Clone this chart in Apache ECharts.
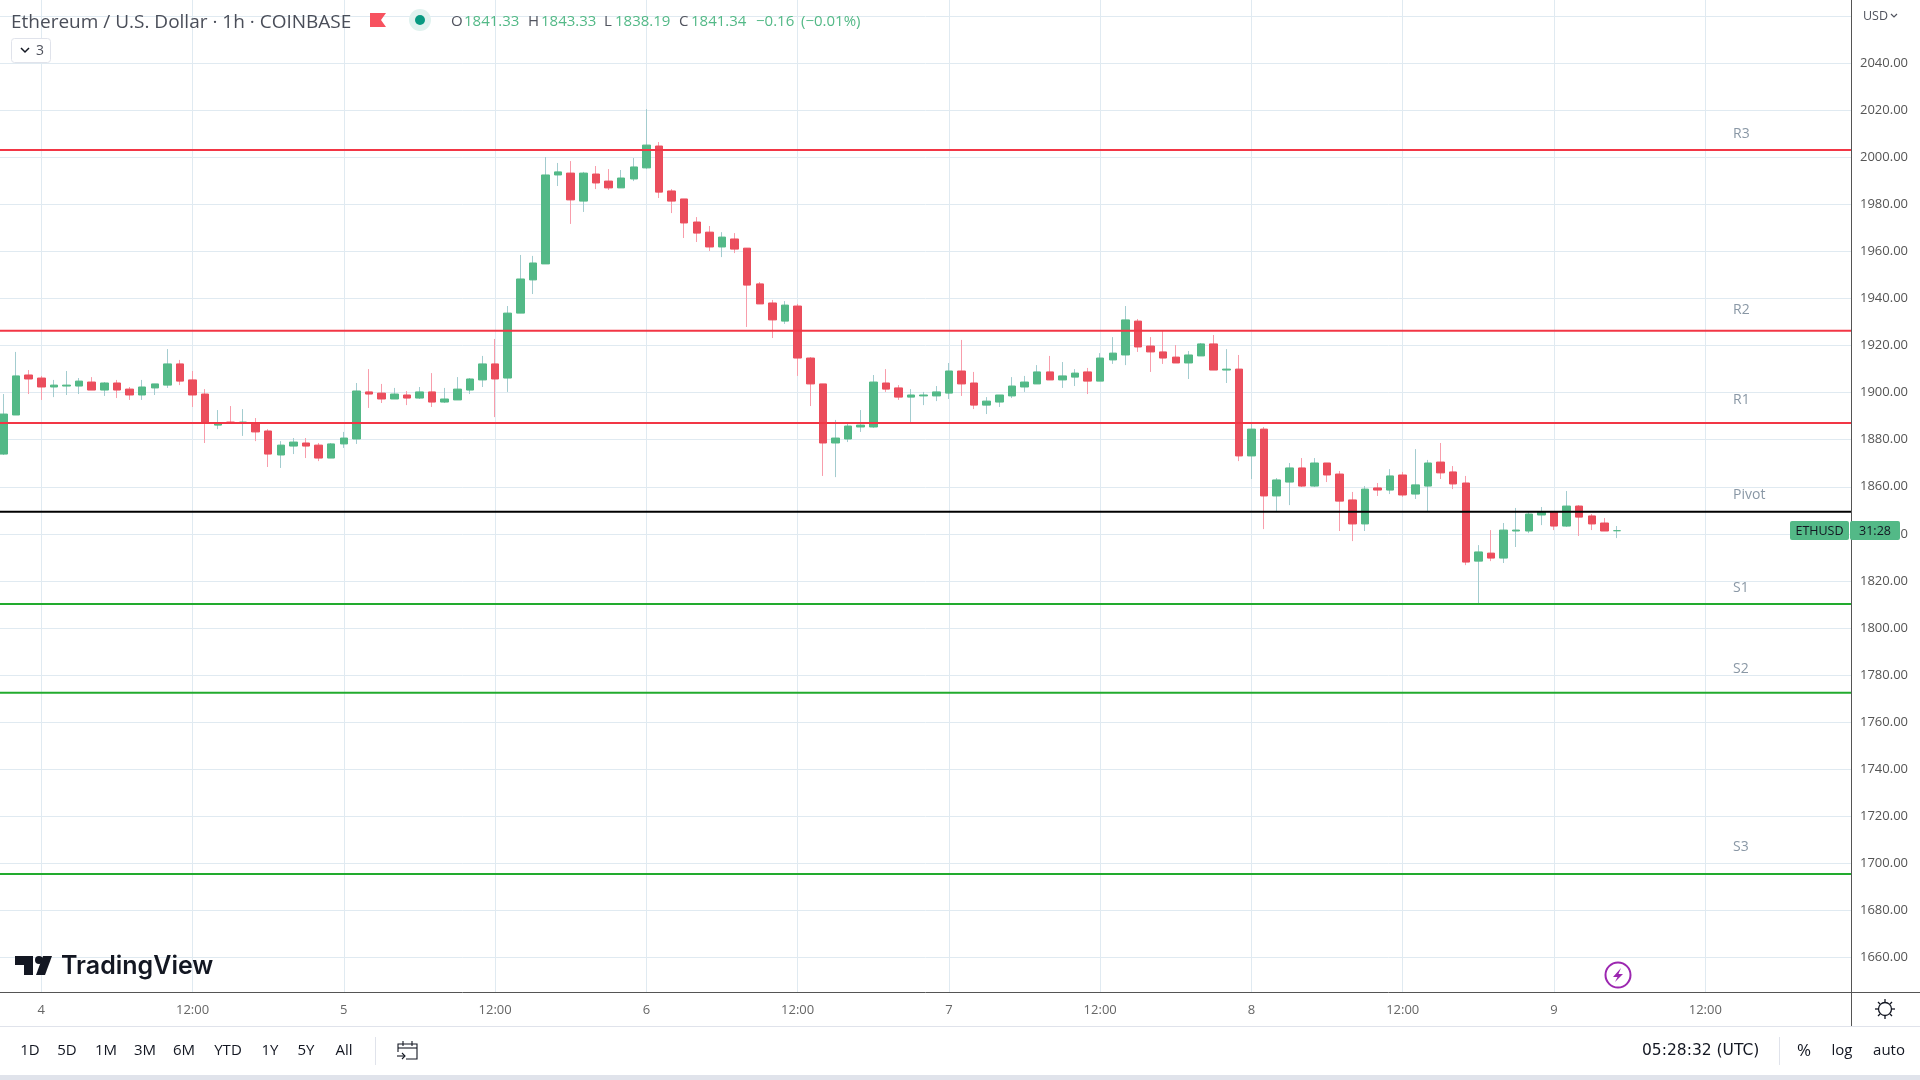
<!DOCTYPE html>
<html>
<head>
<meta charset="utf-8">
<title>ETHUSD</title>
<script src="https://cdn.jsdelivr.net/npm/echarts@6/dist/echarts.min.js"></script>
<style>
  html, body { margin: 0; padding: 0; background: #fff; }
  #main { width: 1920px; height: 1080px; }
</style>
</head>
<body>
<div id="main"></div>
<script>
// hours counted from the 4th 00:00
var hours = [-3,-2,-1,0,1,2,3,4,5,6,7,8,9,10,11,12,13,14,15,16,17,18,19,20,21,22,23,24,25,26,27,28,29,30,31,32,33,34,35,36,37,38,39,40,41,42,43,44,45,46,47,48,49,50,51,52,53,54,55,56,57,58,59,60,61,62,63,64,65,66,67,68,69,70,71,72,73,74,75,76,77,78,79,80,81,82,83,84,85,86,87,88,89,90,91,92,93,94,95,96,97,98,99,100,101,102,103,104,105,106,107,108,109,110,111,112,113,114,115,116,117,118,119,120,121,122,123,124,125];

var opens = [1873.9,1890.5,1907.5,1906.2,1902.4,1902.8,1902.8,1904.5,1901.1,1904.1,1901.5,1899.0,1902.0,1903.2,1912.2,1905.4,1899.4,1886.2,1887.5,1887.1,1887.1,1883.7,1873.5,1877.3,1878.6,1877.7,1872.2,1878.2,1880.3,1900.3,1899.8,1897.3,1899.0,1897.7,1900.3,1896.0,1896.9,1901.1,1905.4,1912.2,1906.2,1933.8,1947.9,1954.7,1992.5,1993.3,1981.4,1992.9,1989.9,1987.0,1990.8,1995.5,2004.8,1985.7,1982.3,1972.5,1968.2,1961.9,1965.3,1961.4,1946.2,1938.1,1930.4,1936.8,1914.7,1903.7,1878.6,1880.3,1885.4,1885.4,1904.1,1902.0,1898.1,1898.6,1898.6,1899.8,1909.2,1904.1,1894.7,1896.0,1898.6,1902.4,1903.7,1908.8,1905.4,1906.6,1908.8,1904.9,1913.9,1916.0,1930.4,1919.8,1917.3,1915.1,1912.6,1915.6,1920.7,1909.6,1910.0,1873.1,1884.5,1856.1,1862.0,1868.0,1860.3,1870.1,1865.4,1854.4,1844.2,1859.5,1858.6,1865.0,1856.9,1860.3,1870.5,1866.3,1861.6,1828.4,1831.8,1829.7,1841.2,1841.2,1848.0,1849.3,1843.3,1851.8,1847.6,1844.6,1841.33];
var highs = [1899.4,1917.3,1909.6,1907.1,1905.4,1909.2,1906.2,1906.6,1904.5,1905.4,1902.4,1905.4,1903.7,1918.5,1913.9,1909.2,1901.5,1892.6,1894.3,1893.0,1889.2,1884.5,1879.4,1880.7,1880.7,1878.6,1878.6,1883.3,1904.1,1910.0,1903.7,1902.0,1900.7,1902.4,1908.3,1902.0,1906.6,1906.2,1915.6,1922.8,1936.8,1958.5,1958.1,2000.1,1997.6,1998.4,1993.8,1996.3,1995.0,1994.6,1999.7,2020.5,2006.5,1986.5,1982.3,1974.6,1970.8,1968.2,1967.8,1961.4,1947.0,1939.4,1938.9,1937.7,1915.1,1903.7,1888.4,1886.7,1892.6,1907.5,1910.0,1903.2,1901.5,1900.3,1902.8,1912.6,1922.4,1908.8,1898.1,1899.0,1906.6,1907.1,1911.7,1915.6,1913.0,1910.0,1910.5,1916.8,1923.6,1936.8,1931.3,1923.6,1926.2,1920.2,1917.7,1921.1,1924.5,1918.5,1916.0,1886.9,1885.4,1863.7,1870.1,1872.2,1872.2,1870.1,1866.7,1857.8,1860.3,1861.6,1867.5,1866.3,1876.0,1871.4,1878.6,1868.8,1864.6,1835.2,1841.6,1844.6,1851.0,1849.3,1851.4,1849.6,1858.2,1852.2,1848.4,1846.7,1843.33];
var lows = [1873.5,1890.5,1899.4,1896.9,1898.1,1899.0,1899.4,1901.1,1898.6,1897.7,1896.9,1896.9,1899.0,1902.0,1903.2,1893.9,1878.6,1884.5,1887.1,1881.6,1879.4,1868.4,1868.0,1873.9,1872.2,1870.9,1872.2,1876.5,1878.2,1893.5,1895.6,1897.3,1894.7,1897.3,1893.9,1895.6,1896.9,1899.4,1902.4,1889.6,1900.3,1933.8,1941.9,1954.7,1987.8,1971.7,1976.8,1986.5,1986.1,1987.0,1989.9,1995.0,1982.7,1976.3,1965.7,1964.0,1960.2,1957.6,1959.3,1927.9,1937.7,1923.2,1929.2,1907.1,1894.3,1864.6,1864.1,1879.0,1883.3,1885.0,1900.3,1896.9,1887.5,1894.7,1896.4,1897.3,1898.6,1893.0,1890.9,1893.9,1897.7,1900.3,1903.7,1905.4,1902.0,1902.8,1899.4,1904.9,1912.2,1911.7,1917.3,1908.8,1912.2,1912.6,1905.8,1915.6,1909.6,1904.1,1870.9,1863.3,1842.0,1849.7,1852.2,1859.9,1859.9,1862.0,1841.2,1836.9,1841.2,1856.1,1856.9,1855.7,1854.8,1849.7,1863.3,1859.0,1826.7,1810.5,1828.4,1827.6,1834.4,1840.3,1843.7,1841.6,1842.9,1839.1,1841.6,1841.2,1838.19];
var closes = [1890.9,1907.1,1905.8,1902.4,1903.2,1903.2,1904.9,1901.1,1904.1,1901.1,1899.0,1902.4,1903.7,1912.2,1904.9,1899.0,1887.1,1887.1,1887.1,1887.5,1883.3,1873.9,1877.7,1879.0,1877.3,1872.2,1878.2,1880.7,1900.7,1899.4,1897.3,1899.4,1897.7,1900.3,1896.0,1897.3,1901.5,1905.8,1912.2,1905.8,1933.8,1948.3,1955.1,1992.5,1993.8,1981.9,1993.3,1989.1,1987.0,1991.2,1995.9,2005.2,1985.2,1981.4,1972.1,1967.8,1961.9,1966.1,1961.0,1945.7,1937.7,1930.9,1937.2,1914.7,1903.7,1878.6,1880.7,1885.8,1886.2,1904.5,1901.5,1898.1,1899.0,1899.0,1900.3,1909.2,1903.7,1894.7,1896.4,1899.0,1902.8,1904.5,1908.8,1905.4,1907.1,1908.3,1904.9,1914.7,1916.8,1930.9,1919.4,1917.3,1914.7,1912.6,1916.0,1920.7,1909.6,1910.0,1873.1,1884.5,1856.1,1862.9,1868.0,1860.3,1870.1,1865.0,1853.9,1844.2,1859.0,1858.6,1864.6,1856.5,1860.8,1870.1,1865.9,1861.2,1828.0,1832.3,1829.7,1841.6,1841.6,1848.4,1849.3,1843.3,1851.8,1847.1,1844.2,1841.2,1841.34];

// pivot levels
var levelNames = ['R3', 'R2', 'R1', 'Pivot', 'S1', 'S2', 'S3'];
var levelPrices = [2003.1, 1926.3, 1887.1, 1849.4, 1810.2, 1772.5, 1695.4];
var levelLabelPrices = [2009.9, 1935.1, 1896.9, 1856.5, 1817.0, 1782.6, 1706.9];
var levelColors = ['#f23645', '#f23645', '#f23645', '#000000', '#22ab2e', '#22ab2e', '#22ab2e'];

// axis ticks
var priceGrid = [1660,1680,1700,1720,1740,1760,1780,1800,1820,1840,1860,1880,1900,1920,1940,1960,1980,2000,2020,2040,2060];
var priceLabels = [1660,1680,1700,1720,1740,1760,1780,1800,1820,1840,1860,1880,1900,1920,1940,1960,1980,2000,2020,2040];
var hourTicks = [0,12,24,36,48,60,72,84,96,108,120,132];
var hourTickLabels = ['4','12:00','5','12:00','6','12:00','7','12:00','8','12:00','9','12:00'];

var upColor = '#53b987', downColor = '#eb4d5c';
var upWick = '#a3cccf', downWick = '#f89dab';
var xMin = -3.276, xMax = 143.56;
var gridColor = '#e0eaf1', axisColor = '#555555';

var wickData = hours.map(function (h, i) {
  return [h, opens[i], closes[i], lows[i], highs[i]];
});
// bodies go on top of the thin wick series
var bodyData = hours.map(function (h, i) {
  return [h, opens[i], closes[i], Math.min(opens[i], closes[i]), Math.max(opens[i], closes[i])];
});

var series = [{
  name: 'wicks',
  type: 'candlestick',
  barWidth: 1,
  encode: { x: 0, y: [1, 2, 3, 4] },
  itemStyle: { color: upWick, color0: downWick, borderColor: upWick, borderColor0: downWick, borderWidth: 1 },
  data: wickData,
  z: 2
}, {
  name: 'ETHUSD',
  type: 'candlestick',
  barWidth: 8,
  encode: { x: 0, y: [1, 2, 3, 4] },
  itemStyle: { color: upColor, color0: downColor, borderColor: upColor, borderColor0: downColor, borderWidth: 1 },
  data: bodyData,
  z: 3
}];

levelNames.forEach(function (name, i) {
  series.push({
    name: name,
    type: 'line',
    symbol: 'none',
    silent: true,
    lineStyle: { color: levelColors[i], width: 2 },
    data: [[xMin, levelPrices[i]], [xMax, levelPrices[i]]],
    z: 4
  });
});

series.push({
  name: 'levelLabels',
  type: 'scatter',
  symbolSize: 0,
  silent: true,
  label: {
    show: true,
    position: 'right',
    distance: 0,
    color: '#6c7d8e',
    fontFamily: 'Open Sans',
    fontSize: 14,
    formatter: function (p) { return levelNames[p.dataIndex]; }
  },
  data: levelLabelPrices.map(function (v) { return [134.2, v]; }),
  z: 4
});

function txt(x, y, text, fill, size, align, font, weight) {
  return {
    type: 'text', z: 100,
    style: {
      x: x, y: y, text: text, fill: fill, fontSize: size,
      textAlign: align || 'left', textVerticalAlign: 'middle',
      fontFamily: font || 'Open Sans', fontWeight: weight || 'normal'
    }
  };
}
function seg(x1, y1, x2, y2, color, w) {
  return { type: 'line', z: 100, shape: { x1: x1, y1: y1, x2: x2, y2: y2 }, style: { stroke: color, lineWidth: w || 1 } };
}
function poly(points, stroke, w) {
  return { type: 'polyline', z: 100, shape: { points: points }, style: { stroke: stroke, fill: null, lineWidth: w || 1 } };
}
function solid(points, fill) {
  return { type: 'polygon', z: 100, shape: { points: points }, style: { fill: fill } };
}

var legendGreen = '#53b987', dark = '#131722', lineGrey = '#e0e3eb', labelGrey = '#50535e';

var graphics = [
  // header
  txt(11, 23, 'Ethereum / U.S. Dollar · 1h · COINBASE', '#4a4e59', 19),
  solid([[370, 13], [386, 13], [381, 20], [386, 27], [370, 27]], '#f7525f'),
  { type: 'circle', z: 100, shape: { cx: 420, cy: 20, r: 11 }, style: { fill: '#e0f2ef' } },
  { type: 'circle', z: 100, shape: { cx: 420, cy: 20, r: 5 }, style: { fill: '#089981' } },
  txt(451, 22, 'O', labelGrey, 15), txt(464, 22, '1841.33', legendGreen, 15),
  txt(528, 22, 'H', labelGrey, 15), txt(541, 22, '1843.33', legendGreen, 15),
  txt(604, 22, 'L', labelGrey, 15), txt(615, 22, '1838.19', legendGreen, 15),
  txt(679, 22, 'C', labelGrey, 15), txt(691, 22, '1841.34', legendGreen, 15),
  txt(756, 22, '−0.16', legendGreen, 15), txt(801, 22, '(−0.01%)', legendGreen, 15),
  // collapsed studies button
  { type: 'rect', z: 100, shape: { x: 11.5, y: 38.5, width: 39, height: 24, r: 3 }, style: { fill: '#fff', stroke: lineGrey } },
  poly([[21, 48], [25, 52], [29, 48]], dark, 1.5),
  txt(36, 51, '3', labelGrey, 14),
  // right scale
  txt(1863, 16, 'USD', labelGrey, 12.5),
  poly([[1891, 14], [1894, 17], [1897, 14]], labelGrey, 1.2),
  seg(1851.5, 992, 1851.5, 1026, axisColor),
  seg(1851, 992.5, 1920, 992.5, axisColor),
  // last price tag
  { type: 'rect', z: 100, shape: { x: 1790, y: 521, width: 59, height: 19, r: 2 }, style: { fill: upColor } },
  { type: 'rect', z: 100, shape: { x: 1850, y: 521, width: 50, height: 19, r: 2 }, style: { fill: upColor } },
  txt(1819.5, 531, 'ETHUSD', dark, 12.5, 'center'),
  txt(1875, 531, '31:28', dark, 12.5, 'center'),
  // TradingView logo
  solid([[15, 956], [33, 956], [33, 975], [24, 975], [24, 965], [15, 965]], dark),
  { type: 'circle', z: 100, shape: { cx: 39, cy: 960, r: 4 }, style: { fill: dark } },
  solid([[43, 956], [52, 956], [45, 975], [36, 975]], dark),
  txt(61, 966, 'TradingView', dark, 25, 'left', 'Inter', 600),
  // snapshot bolt
  { type: 'circle', z: 100, shape: { cx: 1618, cy: 975, r: 12.5 }, style: { fill: '#fff', stroke: '#9c27b0', lineWidth: 2 } },
  solid([[1621, 968], [1613, 977], [1617.5, 977], [1615, 982], [1623, 974], [1618.5, 974]], '#9c27b0'),
  // gear
  { type: 'circle', z: 100, shape: { cx: 1885, cy: 1009, r: 6.5 }, style: { fill: '#fff', stroke: dark, lineWidth: 1.3 } },
  seg(1885, 999, 1885, 1002, dark, 1.3), seg(1885, 1016, 1885, 1019, dark, 1.3),
  seg(1875, 1009, 1878, 1009, dark, 1.3), seg(1892, 1009, 1895, 1009, dark, 1.3),
  seg(1878, 1002, 1880, 1004, dark, 1.3), seg(1890, 1014, 1892, 1016, dark, 1.3),
  seg(1892, 1002, 1890, 1004, dark, 1.3), seg(1880, 1014, 1878, 1016, dark, 1.3),
  // footer
  seg(0, 1026.5, 1920, 1026.5, lineGrey),
  { type: 'rect', z: 100, shape: { x: 0, y: 1075, width: 1920, height: 5 }, style: { fill: lineGrey } },
  seg(375.5, 1037, 375.5, 1065, lineGrey),
  seg(1779.5, 1037, 1779.5, 1065, lineGrey),
  // go-to-date icon
  poly([[398, 1052], [398, 1044], [417, 1044], [417, 1059], [406, 1059]], dark, 1.1),
  seg(398, 1048, 417, 1048, dark, 1.1), seg(403, 1041, 403, 1046, dark, 1.1), seg(412, 1041, 412, 1046, dark, 1.1),
  seg(397, 1056, 405, 1056, dark, 1.1), poly([[402, 1053], [405, 1056], [402, 1059]], dark, 1.1),
  txt(1642, 1051, '05:28:32 (UTC)', dark, 15.5, 'left', 'DejaVu Sans'),
  txt(1804, 1051, '%', dark, 17, 'center'),
  txt(1842, 1051, 'log', dark, 15, 'center'),
  txt(1889, 1051, 'auto', dark, 15, 'center')
];

var rangeButtons = ['1D', '5D', '1M', '3M', '6M', 'YTD', '1Y', '5Y', 'All'];
var rangeButtonX = [30, 67, 106, 145, 184, 228, 270, 306, 344];
rangeButtons.forEach(function (b, i) {
  graphics.push(txt(rangeButtonX[i], 1051, b, dark, 15, 'center'));
});

var option = {
  animation: false,
  backgroundColor: '#ffffff',
  grid: { left: 0, right: 69, top: 0, bottom: 88, containLabel: false },
  xAxis: {
    type: 'value',
    min: xMin,
    max: xMax,
    axisLine: { show: true, onZero: false, lineStyle: { color: axisColor } },
    axisTick: { show: false, customValues: hourTicks },
    axisLabel: {
      customValues: hourTicks,
      color: '#666666',
      fontFamily: 'Open Sans',
      fontSize: 13,
      margin: 12,
      formatter: function (v) { return hourTickLabels[hourTicks.indexOf(v)]; }
    },
    splitLine: { show: true, lineStyle: { color: gridColor, width: 1 } }
  },
  yAxis: {
    type: 'value',
    position: 'right',
    min: 1645.3,
    max: 2066.85,
    axisLine: { show: true, onZero: false, lineStyle: { color: axisColor } },
    axisTick: { show: false, customValues: priceGrid },
    axisLabel: {
      customValues: priceLabels,
      color: '#555555',
      fontFamily: 'Open Sans',
      fontSize: 13,
      margin: 9,
      padding: [2, 0, 0, 0],
      formatter: function (v) { return v.toFixed(2); }
    },
    splitLine: { show: true, lineStyle: { color: gridColor, width: 1 } }
  },
  graphic: { elements: graphics },
  series: series
};

var chart = echarts.init(document.getElementById('main'));
chart.setOption(option);
</script>
</body>
</html>
